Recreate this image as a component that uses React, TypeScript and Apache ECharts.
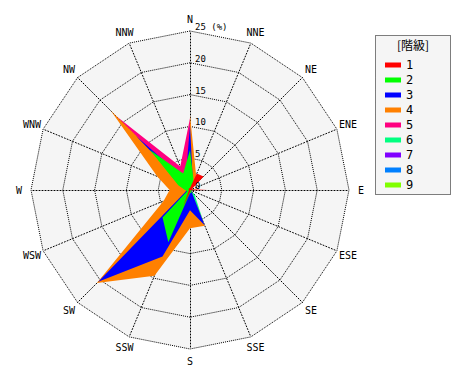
import React, { useEffect, useRef } from 'react';
import * as echarts from 'echarts';

// Directions, clockwise from North
const directions = ['N', 'NNE', 'NE', 'ENE', 'E', 'ESE', 'SE', 'SSE', 'S', 'SSW', 'SW', 'WSW', 'W', 'WNW', 'NW', 'NNW'];

const classNames = ['1', '2', '3', '4', '5', '6', '7', '8', '9'];
const classColors = ['#ff0000', '#00ff00', '#0000ff', '#ff8000', '#ff0080', '#00ff80', '#8000ff', '#0080ff', '#80ff00'];

const radialTicks = [0, 5, 10, 15, 20, 25];
const radialTickLabels = ['0', '5', '10', '15', '20', '25 (%)'];

// Frequencies (%) per direction, clockwise from N
const class1 = [0.3, 2.8, 3.0, 0.3, 2.7, 0.1, 0.0, 0.2, 0.3, 2.8, 0.3, 0.2, 0.2, 0.2, 0.3, 0.3];
const class2 = [6.3, 1.5, 0.5, 0.3, 0.3, 0.3, 0.3, 0.5, 0.5, 8.9, 6.1, 0.5, 0.8, 2.0, 8.9, 2.8];
const class3 = [10.2, 1.2, 0.3, 0.3, 0.3, 0.3, 0.3, 6.0, 3.2, 11.3, 20.4, 0.8, 0.5, 0.5, 12.0, 1.8];
const class4 = [11.8, 2.5, 0.5, 0.3, 0.3, 0.2, 0.2, 6.1, 6.0, 14.6, 20.7, 4.5, 3.2, 5.6, 17.6, 0.3];
const class5 = [11.3, 0.2, 0.1, 0.1, 0.1, 0.1, 0.1, 0.1, 0.1, 0.2, 0.3, 0.2, 0.3, 0.6, 16.5, 4.0];
const class6 = [0, 0, 0, 0, 0, 0, 1.0, 6.0, 0, 0, 0, 0, 0, 0, 0, 0];
const class7 = [0, 0, 0, 0, 0, 0, 0, 0, 0, 0, 0, 0, 0, 0, 0, 0];
const class8 = [0, 0, 0, 0, 0, 0, 0, 0, 0, 0, 0, 0, 0, 0, 0, 0];
const class9 = [0, 0, 0, 0, 0, 0, 0, 0, 0, 0, 0, 0, 0, 0, 0, 0];
const classData = [class1, class2, class3, class4, class5, class6, class7, class8, class9];

const RMAX = 25;
const CX = 190;
const CY = 190;
const R = 159;

// radar places indicators counter-clockwise; reorder clockwise data
const ccwIndex = directions.map((_, k) => (16 - k) % 16);
const toRadar = (arr: any[]) => ccwIndex.map((i) => arr[i]);

export default function App() {
  const ref = useRef<HTMLDivElement>(null);
  useEffect(() => {
    if (!ref.current) return;
    const chart = echarts.init(ref.current, undefined, { renderer: 'svg' });
    const mono = 'DejaVu Sans Mono';

    const dirLabels = directions.map((d, i) => {
      const a = (i * 22.5 * Math.PI) / 180;
      return {
        type: 'text',
        x: CX + 171 * Math.sin(a),
        y: CY - 171 * Math.cos(a),
        style: { text: d, fill: '#000', font: `10px "${mono}"`, align: 'center', verticalAlign: 'middle' },
        silent: true,
      };
    });
    const tickLabels = radialTicks.map((t, i) => ({
      type: 'text',
      x: CX + 5,
      y: CY - (t / RMAX) * R - 4,
      style: { text: radialTickLabels[i], fill: '#000', font: `9px "${mono}"`, align: 'left', verticalAlign: 'middle' },
      silent: true,
      z: 100,
    }));

    const series: any[] = [];
    for (let k = classNames.length - 1; k >= 0; k--) {
      series.push({
        type: 'radar',
        name: classNames[k],
        symbol: 'none',
        silent: true,
        lineStyle: { width: 0, color: classColors[k] },
        itemStyle: { color: classColors[k] },
        areaStyle: { color: classColors[k], opacity: 1 },
        data: [{ name: classNames[k], value: toRadar(classData[k]) }],
      });
    }

    chart.setOption({
      animation: false,
      textStyle: { fontFamily: mono },
      radar: {
        center: [CX, CY],
        radius: R,
        startAngle: 90,
        shape: 'polygon',
        splitNumber: 5,
        axisName: { show: false },
        indicator: toRadar(directions).map((d: string) => ({ name: d, min: 0, max: RMAX })),
        axisLine: { show: true, lineStyle: { color: '#000', width: 1, type: [1, 2] } },
        splitLine: { lineStyle: { color: '#000', width: 1, type: [1, 1] } },
        splitArea: { show: true, areaStyle: { color: ['#f5f5f5'] } },
        axisTick: { show: false },
        axisLabel: { show: false },
        z: 1,
      },
      legend: {
        orient: 'vertical',
        left: 380,
        top: 54,
        icon: 'rect',
        itemWidth: 16,
        itemHeight: 5,
        itemGap: 3,
        data: classNames,
        selectedMode: false,
        textStyle: { fontSize: 12, color: '#000', fontFamily: mono },
      },
      graphic: [
        {
          type: 'rect',
          shape: { x: 375.5, y: 35.5, width: 75, height: 159 },
          style: { fill: '#f5f5f5', stroke: '#000', lineWidth: 1, lineDash: [1, 1] },
          z: -10,
          silent: true,
        },
        {
          type: 'text',
          x: 413,
          y: 44,
          style: { text: '[階級]', fill: '#000', font: '12px "Noto Sans CJK JP"', align: 'center', verticalAlign: 'middle' },
          silent: true,
        },
        ...dirLabels,
        ...tickLabels,
      ],
      series,
    });
    return () => chart.dispose();
  }, []);
  return <div ref={ref} style={{ position: 'fixed', left: 0, top: 0, width: 470, height: 380, background: '#fff' }} />;
}
